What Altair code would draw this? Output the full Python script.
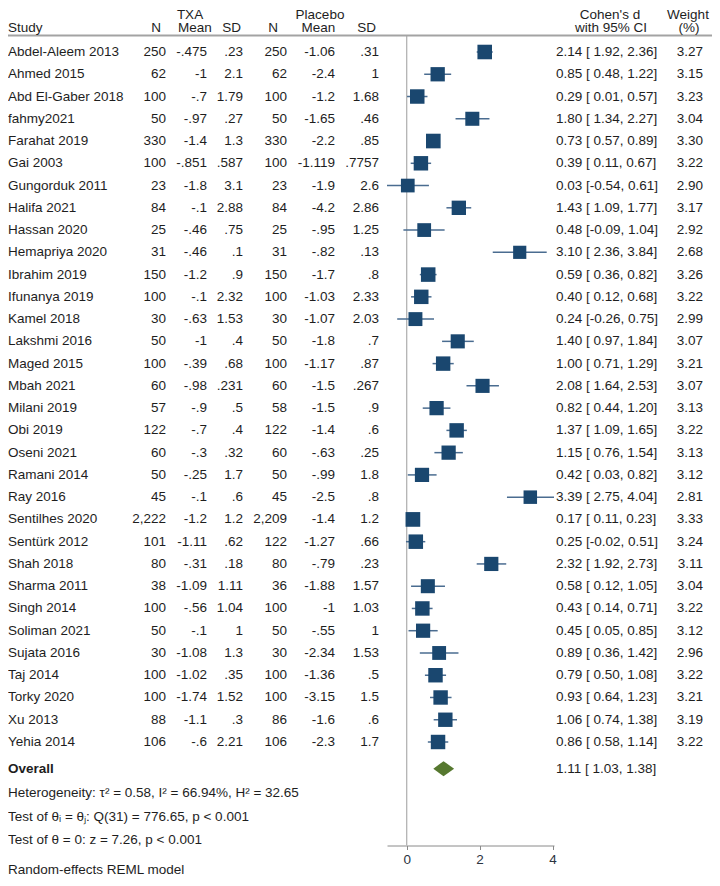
import altair as alt
import pandas as pd

studies = ["Abdel-Aleem 2013", "Ahmed 2015", "Abd El-Gaber 2018", "fahmy2021", "Farahat 2019",
           "Gai 2003", "Gungorduk 2011", "Halifa 2021", "Hassan 2020", "Hemapriya 2020",
           "Ibrahim 2019", "Ifunanya 2019", "Kamel 2018", "Lakshmi 2016", "Maged 2015",
           "Mbah 2021", "Milani 2019", "Obi 2019", "Oseni 2021", "Ramani 2014", "Ray 2016",
           "Sentilhes 2020", "Sentürk 2012", "Shah 2018", "Sharma 2011", "Singh 2014",
           "Soliman 2021", "Sujata 2016", "Taj 2014", "Torky 2020", "Xu 2013", "Yehia 2014"]
txa_n = [250, 62, 100, 50, 330, 100, 23, 84, 25, 31, 150, 100, 30, 50, 100, 60, 57, 122, 60, 50,
         45, 2222, 101, 80, 38, 100, 50, 30, 100, 100, 88, 106]
txa_mean = [-0.475, -1, -0.7, -0.97, -1.4, -0.851, -1.8, -0.1, -0.46, -0.46, -1.2, -0.1, -0.63,
            -1, -0.39, -0.98, -0.9, -0.7, -0.3, -0.25, -0.1, -1.2, -1.11, -0.31, -1.09, -0.56,
            -0.1, -1.08, -1.02, -1.74, -1.1, -0.6]
txa_sd = [0.23, 2.1, 1.79, 0.27, 1.3, 0.587, 3.1, 2.88, 0.75, 0.1, 0.9, 2.32, 1.53, 0.4, 0.68,
          0.231, 0.5, 0.4, 0.32, 1.7, 0.6, 1.2, 0.62, 0.18, 1.11, 1.04, 1, 1.3, 0.35, 1.52, 0.3, 2.21]
pl_n = [250, 62, 100, 50, 330, 100, 23, 84, 25, 31, 150, 100, 30, 50, 100, 60, 58, 122, 60, 50,
        45, 2209, 122, 80, 36, 100, 50, 30, 100, 100, 86, 106]
pl_mean = [-1.06, -2.4, -1.2, -1.65, -2.2, -1.119, -1.9, -4.2, -0.95, -0.82, -1.7, -1.03, -1.07,
           -1.8, -1.17, -1.5, -1.5, -1.4, -0.63, -0.99, -2.5, -1.4, -1.27, -0.79, -1.88, -1,
           -0.55, -2.34, -1.36, -3.15, -1.6, -2.3]
pl_sd = [0.31, 1, 1.68, 0.46, 0.85, 0.7757, 2.6, 2.86, 1.25, 0.13, 0.8, 2.33, 2.03, 0.7, 0.87,
         0.267, 0.9, 0.6, 0.25, 1.8, 0.8, 1.2, 0.66, 0.23, 1.57, 1.03, 1, 1.53, 0.5, 1.5, 0.6, 1.7]
cohen_d = [2.14, 0.85, 0.29, 1.80, 0.73, 0.39, 0.03, 1.43, 0.48, 3.10, 0.59, 0.40, 0.24, 1.40,
           1.00, 2.08, 0.82, 1.37, 1.15, 0.42, 3.39, 0.17, 0.25, 2.32, 0.58, 0.43, 0.45, 0.89,
           0.79, 0.93, 1.06, 0.86]
ci_lo = [1.92, 0.48, 0.01, 1.34, 0.57, 0.11, -0.54, 1.09, -0.09, 2.36, 0.36, 0.12, -0.26, 0.97,
         0.71, 1.64, 0.44, 1.09, 0.76, 0.03, 2.75, 0.11, -0.02, 1.92, 0.12, 0.14, 0.05, 0.36,
         0.50, 0.64, 0.74, 0.58]
ci_hi = [2.36, 1.22, 0.57, 2.27, 0.89, 0.67, 0.61, 1.77, 1.04, 3.84, 0.82, 0.68, 0.75, 1.84,
         1.29, 2.53, 1.20, 1.65, 1.54, 0.82, 4.04, 0.23, 0.51, 2.73, 1.05, 0.71, 0.85, 1.42,
         1.08, 1.23, 1.38, 1.14]
weights = [3.27, 3.15, 3.23, 3.04, 3.30, 3.22, 2.90, 3.17, 2.92, 2.68, 3.26, 3.22, 2.99, 3.07,
           3.21, 3.07, 3.13, 3.22, 3.13, 3.12, 2.81, 3.33, 3.24, 3.11, 3.04, 3.22, 3.12, 2.96,
           3.22, 3.21, 3.19, 3.22]

overall_d, overall_lo, overall_hi = 1.11, 1.03, 1.38
# diamond as drawn in the picture (left tip, centre, right tip)
diamond_x = [0.73, 1.01, 1.30]

stats_lines = [
    "Heterogeneity: τ² = 0.58, I² = 66.94%, H² = 32.65",
    "Test of θᵢ = θⱼ: Q(31) = 776.65, p < 0.001",
    "Test of θ = 0: z = 7.26, p < 0.001",
]
footer = "Random-effects REML model"
x_ticks = [0, 2, 4]

FONT = "Liberation Sans"
FS = 13.5
TXT = "#1e1e1e"
NAVY = "#1a476f"
CI_COL = "#4a6c90"
GREEN = "#56782f"
W, H = 704, 870


def stata_num(v):
    s = f"{v:g}"
    if s.startswith("0."):
        s = s[1:]
    elif s.startswith("-0."):
        s = "-" + s[2:]
    return s


rows = pd.DataFrame({
    "row": list(range(1, len(studies) + 1)),
    "study": studies,
    "n1": [f"{v:,}" for v in txa_n],
    "m1": [stata_num(v) for v in txa_mean],
    "s1": [stata_num(v) for v in txa_sd],
    "n2": [f"{v:,}" for v in pl_n],
    "m2": [stata_num(v) for v in pl_mean],
    "s2": [stata_num(v) for v in pl_sd],
    "d": cohen_d,
    "lo": ci_lo,
    "hi": ci_hi,
    "w": weights,
})
rows["ci"] = [f"{a:.2f} [{b:5.2f}, {c:5.2f}]" for a, b, c in zip(cohen_d, ci_lo, ci_hi)]
rows["wt"] = [f"{v:.2f}" for v in weights]

OV_ROW = 33.2
overall = pd.DataFrame({"row": [OV_ROW], "label": ["Overall"],
                        "ci": [f"{overall_d:.2f} [{overall_lo:5.2f}, {overall_hi:5.2f}]"]})
stats = pd.DataFrame({"row": [34.3, 35.35, 36.4], "label": stats_lines})
foot = pd.DataFrame({"row": [37.75], "label": [footer]})
HH = 0.34
diamond = pd.DataFrame({"x": diamond_x, "y": [OV_ROW, OV_ROW - HH, OV_ROW],
                        "y2": [OV_ROW, OV_ROW + HH, OV_ROW]})

AXIS_Y = 837.5
xscale = alt.Scale(domain=[-0.54, 4.04], range=[379, 546], nice=False, zero=False)
yscale = alt.Scale(domain=[1, 32], range=[44, 734], nice=False, zero=False)
xaxis = alt.Axis(title=None, values=x_ticks, grid=False, domainColor="#8a8a8a",
                 tickColor="#8a8a8a", tickSize=4, labelFont=FONT, labelFontSize=FS,
                 labelColor="#2b3440", labelPadding=3, offset=-(H - AXIS_Y), format="d")


def Y(field="row"):
    return alt.Y(f"{field}:Q", scale=yscale, axis=None)


def X(field):
    return alt.X(f"{field}:Q", scale=xscale, axis=xaxis)


def col_text(df, field, x, align, **kw):
    return alt.Chart(df).mark_text(align=align, baseline="middle", font=FONT, fontSize=FS,
                                   color=TXT, **kw).encode(
        x=alt.value(x), y=Y(), text=f"{field}:N")


layers = []

# reference line at 0
layers.append(alt.Chart(pd.DataFrame({"x": [0]})).mark_rule(color="#b4b4b4", strokeWidth=1.3).encode(
    x=X("x"), y=alt.value(27.5), y2=alt.value(AXIS_Y)))

# header rule
layers.append(alt.Chart(pd.DataFrame({"a": [0]})).mark_rule(color="#a3a3a3", strokeWidth=2.2).encode(
    x=alt.value(0), x2=alt.value(W), y=alt.value(27.5)))

# CI lines and squares
layers.append(alt.Chart(rows).mark_rule(color=CI_COL, strokeWidth=1.5).encode(
    x=X("lo"), x2="hi:Q", y=Y()))
layers.append(alt.Chart(rows).mark_square(color=NAVY, opacity=1, filled=True).encode(
    x=X("d"), y=Y(),
    size=alt.Size("w:Q", scale=alt.Scale(domain=[0, 3.33], range=[0, 216]), legend=None)))

# overall diamond
layers.append(alt.Chart(diamond).mark_area(color=GREEN, opacity=1).encode(
    x=X("x"), y=Y("y"), y2="y2:Q"))

# table columns
layers.append(col_text(rows, "study", 0, "left"))
for field, xpos in [("n1", 158), ("m1", 199), ("s1", 235), ("n2", 279), ("m2", 327), ("s2", 371)]:
    layers.append(col_text(rows, field, xpos, "right"))
layers.append(col_text(rows, "ci", 548, "left"))
layers.append(col_text(rows, "wt", 695, "right"))

layers.append(col_text(overall, "label", 0, "left", fontWeight="bold"))
layers.append(col_text(overall, "ci", 548, "left"))
layers.append(col_text(stats, "label", 0, "left"))
layers.append(col_text(foot, "label", 0, "left"))

# headers
line1 = pd.DataFrame({"label": ["TXA", "Placebo", "Cohen's d", "Weight"],
                      "x": [182, 312, 602, 680]})
line2 = pd.DataFrame({"label": ["N", "Mean", "SD", "N", "Mean", "SD", "with 95% CI", "(%)"],
                      "x": [148, 187, 223.5, 265, 310.5, 358.5, 603, 681]})
layers.append(alt.Chart(line1).mark_text(align="center", baseline="top", font=FONT, fontSize=FS,
                                         color=TXT).encode(
    x=alt.X("x:Q", scale=None), y=alt.value(0), text="label:N"))
layers.append(alt.Chart(pd.DataFrame({"label": ["Study"]})).mark_text(
    align="left", baseline="top", font=FONT, fontSize=FS, color=TXT).encode(
    x=alt.value(0), y=alt.value(13.3), text="label:N"))
layers.append(alt.Chart(line2).mark_text(align="center", baseline="top", font=FONT,
                                         fontSize=FS, color=TXT).encode(
    x=alt.X("x:Q", scale=None), y=alt.value(13.3), text="label:N"))

chart = alt.layer(*layers).properties(
    width=W, height=H, padding=0, autosize=alt.AutoSizeParams(type="none"),
    background="white",
).configure_view(stroke=None)

chart.save("out.html", embed_options={"renderer": "svg", "actions": False})
